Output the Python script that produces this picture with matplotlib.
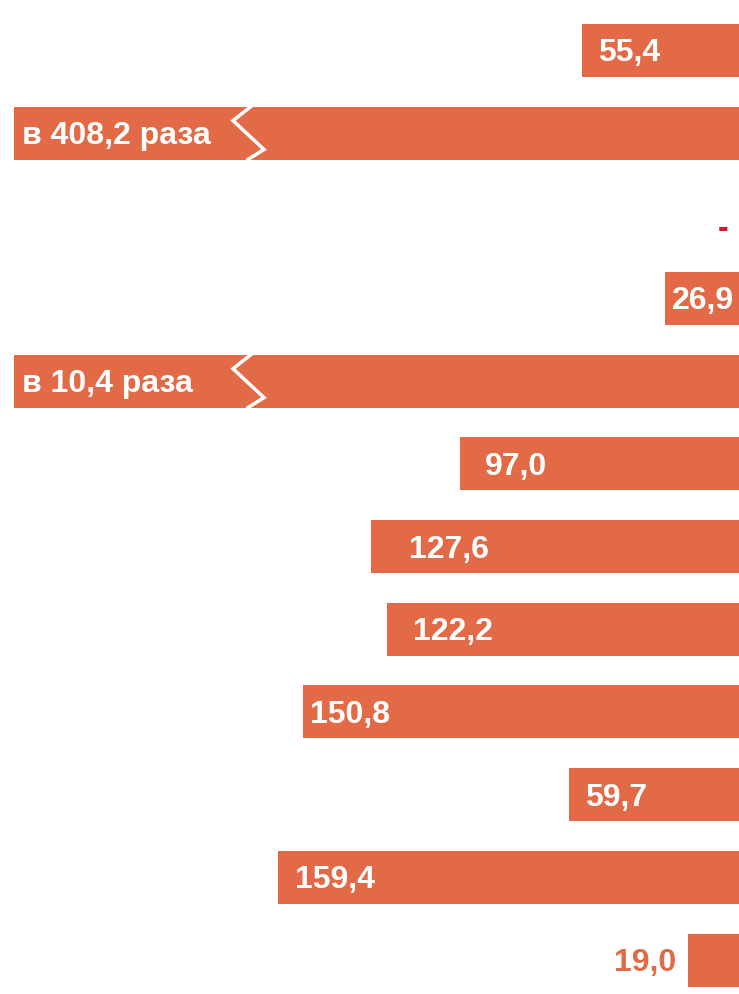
import matplotlib.pyplot as plt

# rows from top to bottom; None marks a "broken" bar (ratio, not to scale)
labels = ['55,4', 'в 408,2 раза', '-', '26,9', 'в 10,4 раза', '97,0',
          '127,6', '122,2', '150,8', '59,7', '159,4', '19,0']
values = [55.4, None, 0, 26.9, None, 97.0, 127.6, 122.2, 150.8, 59.7, 159.4, 19.0]

# label offset from the bar's left edge, pixels (hand-placed in the original)
label_pad = [16, 9, 0, 7, 9, 25, 38, 26, 7, 16, 17, -12]

BAR_COLOR = '#E36A47'
DASH_COLOR = '#E3112F'
BREAK_LEN = 250

plt.rcParams['font.family'] = ['Liberation Sans', 'DejaVu Sans']

fig = plt.figure(figsize=(7.39, 9.95), dpi=100)
ax = fig.add_axes([0, 0, 1, 1])

# px scale: x_px = 743.5 - 2.92 * value, rows 82.7 px apart
px_per_unit = 2.92
x0_px = 743.5
row_px = 82.7
top_px = 51.3
ax.set_xlim(x0_px / px_per_unit, (x0_px - 739) / px_per_unit)
ax.set_ylim((995 - top_px) / row_px, -top_px / row_px)
ax.axis('off')

bar_h = 53 / row_px

for i, (lab, v, pad) in enumerate(zip(labels, values, label_pad)):
    if lab == '-':
        ax.text((x0_px - 723.5) / px_per_unit, i + 0.15, '-', color=DASH_COLOR,
                fontsize=23, fontweight='bold', ha='center', va='center')
        continue
    length = BREAK_LEN if v is None else v
    ax.barh(i, length, height=bar_h, color=BAR_COLOR, left=0)
    if v is None:
        # zigzag break mark
        px = [251, 233, 264, 248]
        dy = [-bar_h / 2, -0.15, 0.2, bar_h / 2]
        ax.plot([(x0_px - p) / px_per_unit for p in px], [i + d for d in dy],
                color='white', lw=2.5, solid_joinstyle='miter')
    if pad < 0:
        ax.annotate(lab, (length, i), xytext=(pad * 0.72, -1.5), textcoords='offset points',
                    color=BAR_COLOR, fontsize=23, fontweight='bold', ha='right', va='center')
    else:
        ax.annotate(lab, (length, i), xytext=(pad * 0.72, -1.5), textcoords='offset points',
                    color='white', fontsize=23, fontweight='bold', ha='left', va='center')

fig.savefig('out.png', dpi=100)
